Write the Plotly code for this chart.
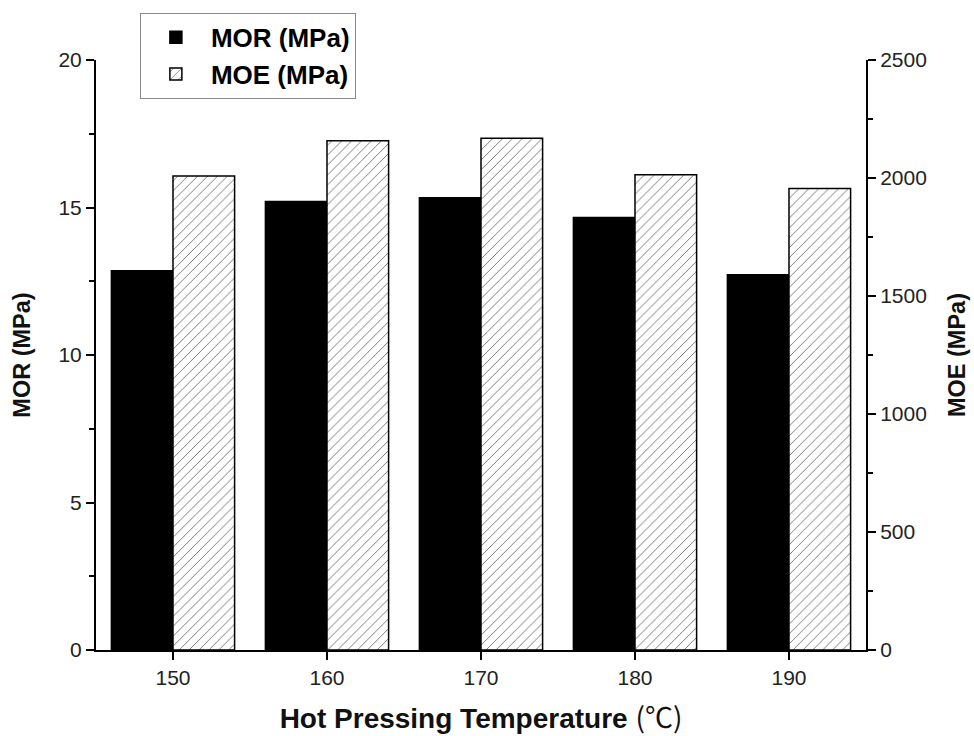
import plotly.graph_objects as go

# Hot pressing temperature groups (°C)
temperatures = [150, 160, 170, 180, 190]
# Modulus of rupture (MPa), left axis
mor_values = [12.86, 15.2, 15.33, 14.66, 12.72]
# Modulus of elasticity (MPa), right axis
moe_values = [2009, 2158, 2168, 2014, 1955]

FONT = "Arial, 'Liberation Sans', sans-serif"

fig = go.Figure()

fig.add_trace(go.Bar(
    x=temperatures, y=mor_values, name="MOR (MPa)",
    width=4, offset=-4,
    marker=dict(color="black", line=dict(color="black", width=1.5)),
    yaxis="y",
))
fig.add_trace(go.Bar(
    x=temperatures, y=moe_values, name="MOE (MPa)",
    width=4, offset=0,
    marker=dict(
        color="white",
        line=dict(color="black", width=1.5),
        pattern=dict(shape="/", size=7, solidity=0.12,
                     fgcolor="#666666", bgcolor="white", fillmode="replace"),
    ),
    yaxis="y2",
))

axis_common = dict(
    showgrid=False, zeroline=False, showline=True, automargin=False,
    linecolor="black", linewidth=2,
    ticks="outside", ticklen=8, tickwidth=2, tickcolor="black",
    tickfont=dict(family=FONT, size=21, color="#222222"),
)

fig.update_layout(
    width=974, height=736,
    margin=dict(l=96, r=108, t=60, b=86),
    paper_bgcolor="white", plot_bgcolor="white",
    barmode="overlay",
    showlegend=True,
    legend=dict(
        x=0.057, y=1.08, xanchor="left", yanchor="top",
        bordercolor="#888888", borderwidth=1, bgcolor="white",
        font=dict(family=FONT, size=26, color="black", weight="bold"),
        tracegroupgap=0, itemwidth=60,
    ),
    xaxis=dict(
        **axis_common,
        range=[145, 195],
        tickvals=temperatures,
        title=dict(
            text="<b>Hot Pressing Temperature</b> <span style=\"font-family:'Noto Sans CJK SC'\">(℃)</span>",
            font=dict(family=FONT, size=28, color="#111111"),
            standoff=21,
        ),
    ),
    yaxis=dict(
        **axis_common,
        range=[0, 20],
        tickvals=[0, 5, 10, 15, 20],
        minor=dict(dtick=2.5, ticks="outside", ticklen=5, tickwidth=2, tickcolor="black"),
        title=dict(text="<b>MOR (MPa)</b>",
                   font=dict(family=FONT, size=23.5, color="#111111"), standoff=21),
    ),
    yaxis2=dict(
        **axis_common,
        overlaying="y", side="right",
        range=[0, 2500],
        tickvals=[0, 500, 1000, 1500, 2000, 2500],
        minor=dict(dtick=250, ticks="outside", ticklen=5, tickwidth=2, tickcolor="black"),
        title=dict(text="<b>MOE (MPa)</b>",
                   font=dict(family=FONT, size=23.5, color="#111111"), standoff=23),
    ),
)

fig.write_html("out.html")
